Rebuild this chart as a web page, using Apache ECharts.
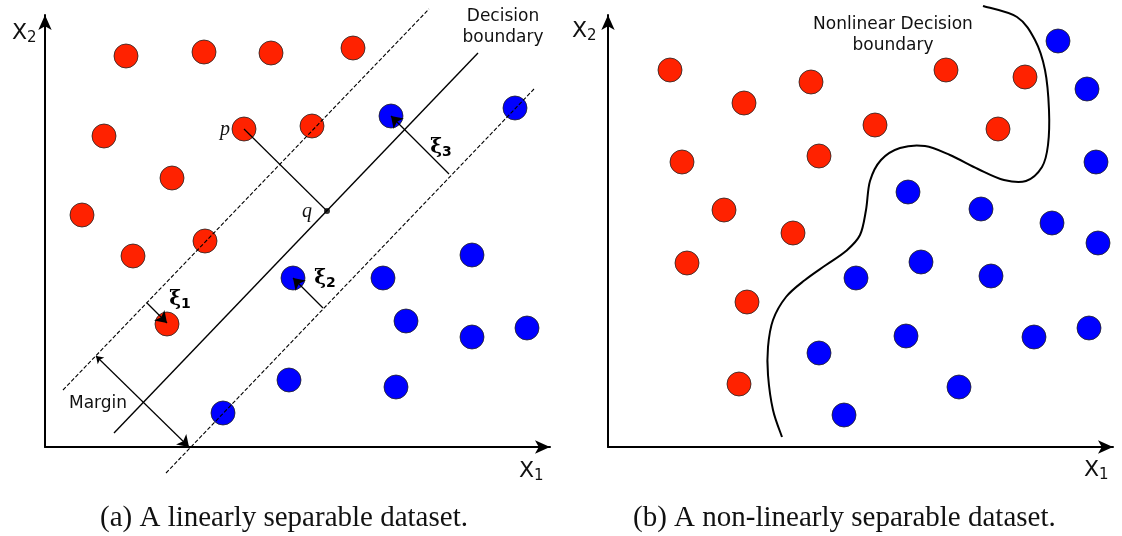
<!DOCTYPE html>
<html>
<head>
<meta charset="utf-8">
<script src="https://cdn.jsdelivr.net/npm/echarts@6/dist/echarts.min.js"></script>
<style>html,body{margin:0;padding:0;background:#fff}#c{width:1122px;height:536px}</style>
</head>
<body>
<div id="c"></div>
<script>
// ---- Data (X1, X2 coordinates, origin at each panel's axis corner) ----
// (a) linearly separable dataset
var redLeft = [[81,391],[159,395],[226,394],[308,399],[59,311],[199,318],[267,321],[127,269],[37,232],[88,191],[160,206],[122,123]];
var blueLeft = [[346,331],[470,339],[248,169],[338,169],[427,192],[361,126],[427,110],[482,119],[244,67],[351,60],[178,34]];
var decisionLine = [[69,14],[433,394]];
var marginUpper = [[18,57],[384,438]];
var marginLower = [[121,-26],[489,358]];
var pqSegment = [[199,318],[282,236]];
var qPoint = [[282,236]];
var xi1Arrow = [[102,144],[122,124]];
var xi2Arrow = [[278,139],[248,169]];
var xi3Arrow = [[404,273],[346,331]];
var marginArrow = [[51,91],[144,0]];
// (b) non-linearly separable dataset
var redRight = [[62,377],[136,344],[203,365],[267,322],[338,377],[417,370],[390,318],[74,285],[211,291],[116,237],[185,214],[79,184],[139,145],[131,63]];
var blueRight = [[450,406],[479,358],[488,285],[300,255],[373,238],[444,224],[490,204],[313,185],[383,171],[248,169],[298,111],[426,110],[481,119],[211,94],[351,60],[236,32]];
var nonlinearBoundary = [[375,441],[409,430],[427,407],[437,377],[441,337],[440,302],[434,280],[418,266],[396,267],[370,278],[342,292],[317,301],[292,299],[273,287],[262,266],[258,237],[252,212],[238,196],[218,182],[197,167],[178,150],[165,127],[160,100],[160,72],[165,37],[174,10]];
// text annotations
var leftLabels = [
  {pos:[458,420], text:'Decision\nboundary', kind:'sans'},
  {pos:[53,43], text:'Margin', kind:'sans'},
  {pos:[180,317], text:'p', kind:'ital'},
  {pos:[262,235], text:'q', kind:'ital'},
  {pos:[135,147], text:'{x|ξ}{s|1}', kind:'xi'},
  {pos:[280,168], text:'{x|ξ}{s|2}', kind:'xi'},
  {pos:[396,299], text:'{x|ξ}{s|3}', kind:'xi'}
];
var rightLabels = [
  {pos:[285,412], text:'Nonlinear Decision\nboundary', kind:'sans'}
];
var captions = ['(a) A linearly separable dataset.', '(b) A non-linearly separable dataset.'];

var RED = '#ff2200', BLUE = '#0000ff';
var chart = echarts.init(document.getElementById('c'));

function axisPair(gi, xmax, ymax) {
  var line = {show:true, symbol:['none','arrow'], symbolSize:[10,15], lineStyle:{color:'#000', width:2}};
  return {
    x: {gridIndex:gi, type:'value', min:0, max:xmax, axisLine:line, axisTick:{show:false}, axisLabel:{show:false}, splitLine:{show:false}},
    y: {gridIndex:gi, type:'value', min:0, max:ymax, axisLine:line, axisTick:{show:false}, axisLabel:{show:false}, splitLine:{show:false}}
  };
}
var a0 = axisPair(0, 505, 432), a1 = axisPair(1, 505, 432);

function pts(data, color, gi) {
  return {type:'scatter', xAxisIndex:gi, yAxisIndex:gi, data:data, symbol:'circle', symbolSize:24, clip:false, z:2,
    itemStyle:{color:color, borderColor:'#222', borderWidth:0.8, opacity:1}, emphasis:{disabled:true}, silent:true};
}
function seg(coords, gi, opts) {
  opts = opts || {};
  return {type:'lines', coordinateSystem:'cartesian2d', xAxisIndex:gi, yAxisIndex:gi, clip:false, z:3, silent:true,
    symbol: opts.symbol || ['none','none'], symbolSize: opts.symbolSize || 9,
    lineStyle:{color:'#000', width: opts.width || 1.2, type: opts.type || 'solid', opacity:1},
    data:[{coords:coords}]};
}
// smooth curve through the read points (Catmull-Rom drawn as cubic Béziers)
function curveSeries(points, gi) {
  return {type:'custom', coordinateSystem:'cartesian2d', xAxisIndex:gi, yAxisIndex:gi, clip:false, z:3, silent:true,
    data:[[points[0][0], points[0][1]]],
    renderItem:function(params, api){
      var P = points.map(function(p){ return api.coord(p); });
      var d = 'M' + P[0][0] + ' ' + P[0][1];
      for (var i = 0; i < P.length - 1; i++) {
        var p0 = P[Math.max(i-1,0)], p1 = P[i], p2 = P[i+1], p3 = P[Math.min(i+2,P.length-1)];
        var c1 = [p1[0] + (p2[0]-p0[0])/6, p1[1] + (p2[1]-p0[1])/6];
        var c2 = [p2[0] - (p3[0]-p1[0])/6, p2[1] - (p3[1]-p1[1])/6];
        d += ' C' + c1[0] + ' ' + c1[1] + ' ' + c2[0] + ' ' + c2[1] + ' ' + p2[0] + ' ' + p2[1];
      }
      return {type:'path', shape:{pathData:d}, style:{fill:null, stroke:'#000', lineWidth:2}};
    }};
}

chart.setOption({
  animation:false,
  backgroundColor:'#fff',
  grid:[{left:45, top:15, width:505, height:432}, {left:608, top:15, width:505, height:432}],
  xAxis:[a0.x, a1.x],
  yAxis:[a0.y, a1.y],
  series:[
    pts(redLeft, RED, 0), pts(blueLeft, BLUE, 0),
    seg(decisionLine, 0, {width:1.4}),
    seg(marginUpper, 0, {type:[4,2], width:1.1}),
    seg(marginLower, 0, {type:[4,2], width:1.1}),
    seg(pqSegment, 0, {width:1.2}),
    {type:'scatter', xAxisIndex:0, yAxisIndex:0, data:qPoint, symbolSize:6, itemStyle:{color:'#000'}, z:4, silent:true},
    seg(xi1Arrow, 0, {symbol:['none','arrow'], symbolSize:[7,11]}),
    seg(xi2Arrow, 0, {symbol:['none','arrow'], symbolSize:[7,11]}),
    seg(xi3Arrow, 0, {symbol:['none','arrow'], symbolSize:[7,11]}),
    seg(marginArrow, 0, {symbol:['arrow','arrow'], symbolSize:[7,11]}),
    pts(redRight, RED, 1), pts(blueRight, BLUE, 1),
    curveSeries(nonlinearBoundary, 1)
  ]
});

// ---- text placed through the axes' own scales ----
var richAxis = {x:{fontFamily:'DejaVu Sans', fontSize:22, fill:'#111', color:'#111'}, s:{fontFamily:'DejaVu Sans', fontSize:15, fill:'#111', color:'#111', padding:[10,0,0,0]}};
var richXi = {x:{fontFamily:'DejaVu Serif', fontWeight:'bold', fontSize:20, color:'#000', fill:'#000', lineHeight:22},
              s:{fontFamily:'DejaVu Sans', fontWeight:'bold', fontSize:14, color:'#000', fill:'#000', padding:[9,0,0,0]}};
function axisTitle(x, y, sub) {
  return {type:'text', x:x, y:y, z:10, style:{text:'{x|X}{s|'+sub+'}', rich:richAxis, align:'left', verticalAlign:'middle'}};
}
function annot(list, gi) {
  return list.map(function(l){
    var p = chart.convertToPixel({gridIndex:gi}, l.pos);
    var st = {text:l.text, align:'center', verticalAlign:'middle', fill:'#111'};
    if (l.kind === 'sans') { st.fontFamily='DejaVu Sans'; st.fontSize=17; st.lineHeight=21; }
    else if (l.kind === 'ital') { st.fontFamily='Liberation Serif'; st.fontStyle='italic'; st.fontSize=20; }
    else { st.rich = richXi; }
    return {type:'text', x:p[0], y:p[1], z:10, style:st};
  });
}
var g = [
  axisTitle(12, 33, '2'), axisTitle(519, 471, '1'),
  axisTitle(572, 31, '2'), axisTitle(1084, 470, '1'),
  {type:'text', x:100, y:518, style:{text:captions[0], fontFamily:'Liberation Serif', fontSize:29, fill:'#111', align:'left', verticalAlign:'middle'}},
  {type:'text', x:633, y:518, style:{text:captions[1], fontFamily:'Liberation Serif', fontSize:29, fill:'#111', align:'left', verticalAlign:'middle'}}
].concat(annot(leftLabels, 0), annot(rightLabels, 1));
chart.setOption({graphic: g});
</script>
</body>
</html>
